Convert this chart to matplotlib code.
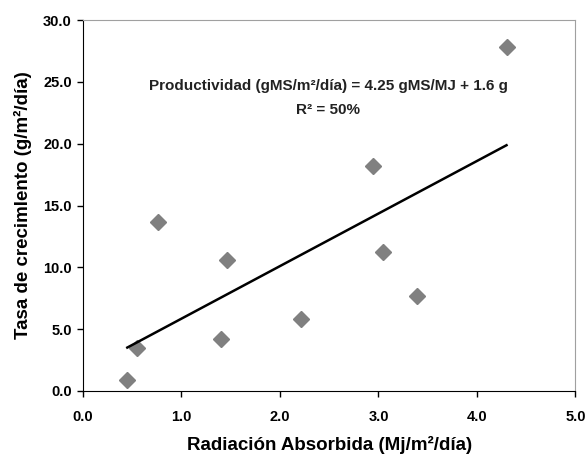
import matplotlib
matplotlib.use('Agg')
import numpy as np
import matplotlib.pyplot as plt

plt.rcParams['font.family'] = ['Liberation Sans', 'DejaVu Sans']

# data
radiacion = [0.45, 0.55, 0.76, 1.40, 1.46, 2.21, 2.94, 3.05, 3.39, 4.30]
tasa = [0.9, 3.5, 13.7, 4.2, 10.6, 5.8, 18.2, 11.2, 7.7, 27.8]

# regression shown on the chart
pendiente = 4.25
intercepto = 1.6

x_ticks = [0.0, 1.0, 2.0, 3.0, 4.0, 5.0]
y_ticks = [0.0, 5.0, 10.0, 15.0, 20.0, 25.0, 30.0]

fig = plt.figure(figsize=(5.86, 4.58), dpi=100)
ax = fig.add_axes([0.1416, 0.1463, 0.8404, 0.81])

#points
ax.plot(radiacion, tasa, linestyle='none', marker='D', markersize=8,
        color='#808080', markeredgecolor='#808080')

#trend line
x_line = np.array([min(radiacion), max(radiacion)])
ax.plot(x_line, pendiente*x_line+intercepto, color='black', lw=1.8)

ax.set_xlim(0, 5)
ax.set_ylim(0, 30)
ax.set_xticks(x_ticks)
ax.set_yticks(y_ticks)
ax.set_xticklabels(['%.1f' % v for v in x_ticks], fontsize=10.5, fontweight='bold')
ax.set_yticklabels(['%.1f' % v for v in y_ticks], fontsize=10.5, fontweight='bold')
ax.tick_params(axis='y', direction='out', length=4, width=1, pad=4)
ax.tick_params(axis='x', direction='out', length=4, width=1, pad=10)

for s in ['top', 'right']:
    ax.spines[s].set_color('#a0a0a0')
for s in ['left', 'bottom']:
    ax.spines[s].set_color('black')

ax.set_xlabel('Radiación Absorbida (Mj/m²/día)', fontsize=13.5, fontweight='bold', labelpad=8)
ax.set_ylabel('Tasa de crecimlento (g/m²/día)', fontsize=13.5, fontweight='bold', labelpad=8)

ax.text(2.49, 24.7, 'Productividad (gMS/m²/día) = 4.25 gMS/MJ + 1.6 g',
        ha='center', va='center', fontsize=11, fontweight='bold', color='#222222')
ax.text(2.49, 22.75, 'R² = 50%', ha='center', va='center',
        fontsize=11, fontweight='bold', color='#222222')

plt.savefig('out.png', dpi=100)
